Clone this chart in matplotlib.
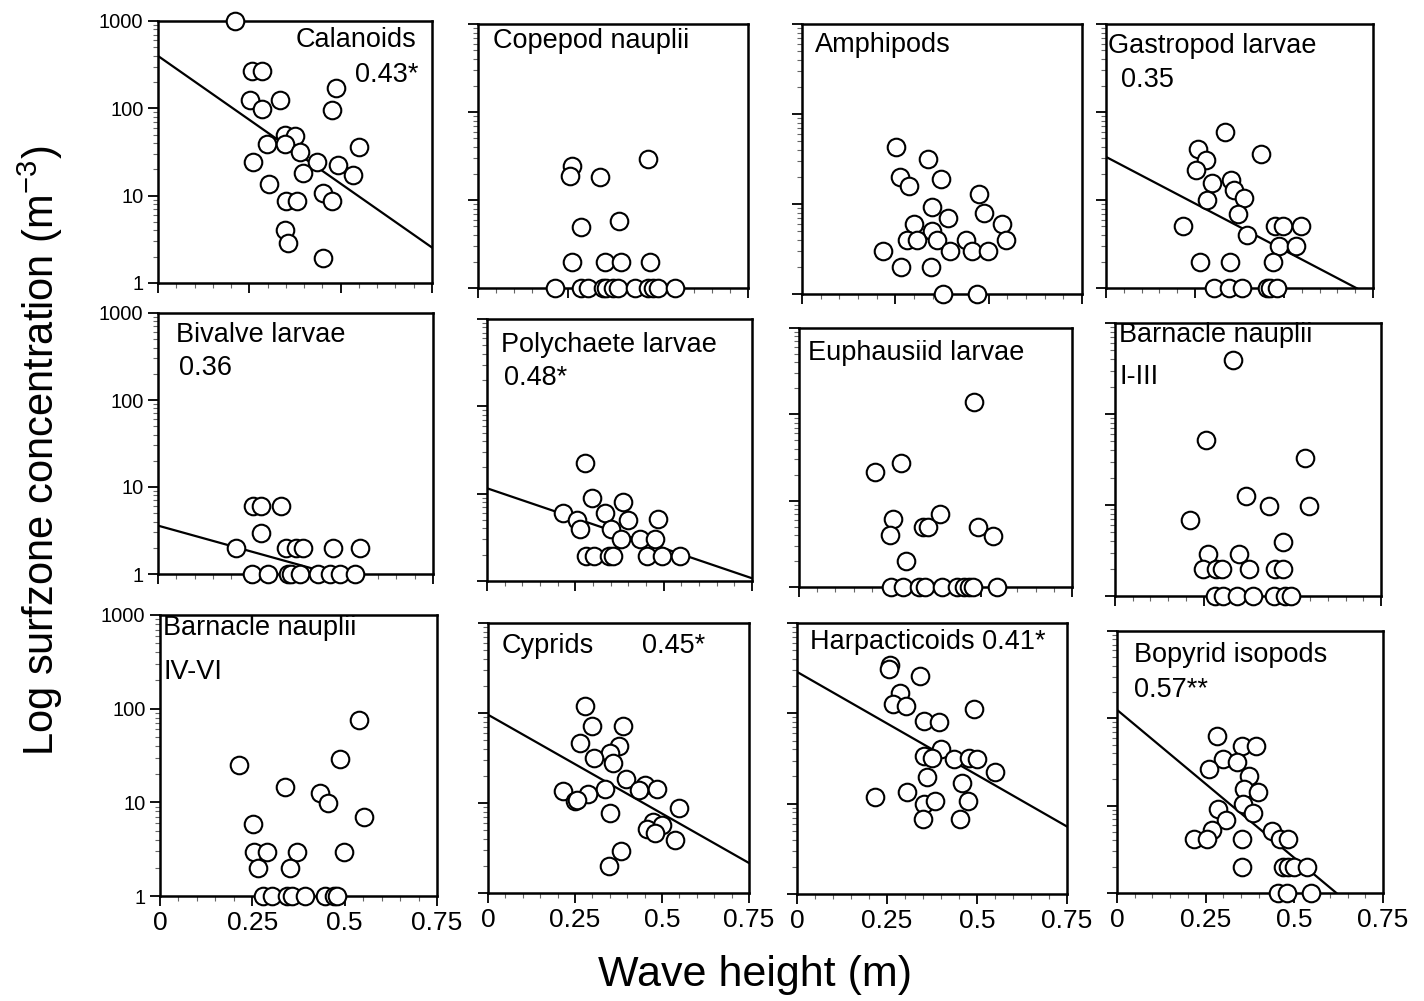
import matplotlib.pyplot as plt
import numpy as np
from matplotlib.ticker import MultipleLocator, LogLocator, NullFormatter

plt.rcParams["font.family"] = ["Liberation Sans", "DejaVu Sans"]
plt.rcParams["mathtext.fontset"] = "custom"
plt.rcParams["mathtext.rm"] = "Liberation Sans"
plt.rcParams["mathtext.it"] = "Liberation Sans:italic"

# wave height (m) and surfzone concentration (m^-3)
calanoids_x = [0.21, 0.256, 0.284, 0.253, 0.285, 0.334, 0.348, 0.375, 0.297, 0.348, 0.389, 0.261, 0.434,
               0.494, 0.535, 0.549, 0.396, 0.305, 0.451, 0.476, 0.35, 0.38, 0.348, 0.357, 0.451, 0.488, 0.477]
calanoids_y = [1000, 266, 266, 124, 98, 124, 50, 48, 39, 39, 32, 24.5, 24.5,
               22.5, 17.3, 36, 18, 13.5, 10.7, 8.6, 8.6, 8.6, 4.0, 2.86, 1.93, 169, 95]

copepod_x = [0.262, 0.255, 0.338, 0.472, 0.392, 0.287, 0.262, 0.352, 0.398, 0.477, 0.213,
             0.287, 0.306, 0.347, 0.356, 0.375, 0.389, 0.435, 0.472, 0.486, 0.5, 0.546]
copepod_y = [24.5, 18.6, 18.1, 29.5, 5.8, 4.9, 1.97, 1.97, 1.97, 1.97, 1,
             1, 1, 1, 1, 1, 1, 1, 1, 1, 1, 1]

amphipods_x = [0.253, 0.337, 0.263, 0.286, 0.371, 0.473, 0.487, 0.348, 0.39, 0.299, 0.348, 0.536, 0.547,
               0.281, 0.308, 0.362, 0.438, 0.217, 0.397, 0.455, 0.497, 0.265, 0.346, 0.379, 0.47]
amphipods_y = [42.6, 31.9, 19.8, 15.7, 19.1, 12.9, 7.9, 9.2, 7.0, 6.0, 5.0, 6.0, 4.0,
               4.0, 4.0, 4.0, 4.0, 2.98, 2.98, 2.98, 2.98, 1.98, 1.98, 1, 1]

gastropod_x = [0.334, 0.259, 0.282, 0.434, 0.252, 0.299, 0.35, 0.359, 0.387, 0.284, 0.371, 0.215, 0.395, 0.474,
               0.496, 0.549, 0.486, 0.535, 0.264, 0.348, 0.468, 0.303, 0.346, 0.381, 0.451, 0.46, 0.479]
gastropod_y = [60, 38, 28.5, 33, 21.9, 15.4, 16.9, 13, 10.6, 10, 6.9, 5.0, 4.0, 5.0,
               5.0, 5.0, 3.0, 3.0, 1.98, 1.98, 1.98, 1, 1, 1, 1, 1, 1]

bivalve_x = [0.259, 0.282, 0.336, 0.282, 0.214, 0.35, 0.375, 0.395, 0.477, 0.55,
             0.255, 0.3, 0.355, 0.364, 0.386, 0.436, 0.468, 0.495, 0.536]
bivalve_y = [6, 6, 6, 2.96, 2, 2, 2, 2, 2, 2,
             1, 1, 1, 1, 1, 1, 1, 1, 1]

polychaete_x = [0.278, 0.297, 0.385, 0.215, 0.255, 0.262, 0.335, 0.398, 0.351, 0.483, 0.379, 0.434, 0.476,
                0.281, 0.302, 0.344, 0.358, 0.453, 0.495, 0.545]
polychaete_y = [22.7, 8.9, 8.1, 6.0, 5.0, 3.9, 6.0, 5.0, 3.9, 5.1, 3.0, 3.0, 3.0,
                1.94, 1.94, 1.94, 1.94, 1.94, 1.94, 1.94]

euphausiid_x = [0.481, 0.208, 0.279, 0.257, 0.25, 0.341, 0.355, 0.386, 0.493, 0.532, 0.294,
                0.254, 0.286, 0.33, 0.346, 0.392, 0.433, 0.453, 0.468, 0.479, 0.543]
euphausiid_y = [140, 21.7, 27, 6.1, 4.0, 4.9, 4.9, 7.0, 5.0, 3.9, 1.98,
                1, 1, 1, 1, 1, 1, 1, 1, 1, 1]

barn13_x = [0.334, 0.257, 0.536, 0.37, 0.433, 0.546, 0.212, 0.473, 0.261, 0.351, 0.249, 0.285,
            0.301, 0.379, 0.452, 0.475, 0.282, 0.304, 0.343, 0.39, 0.447, 0.48, 0.496]
barn13_y = [396, 51.6, 33, 12.5, 9.7, 9.7, 6.9, 3.9, 2.89, 2.89, 1.96, 1.96,
            1.96, 1.96, 1.96, 1.96, 1, 1, 1, 1, 1, 1, 1]

barn46_x = [0.215, 0.339, 0.538, 0.488, 0.434, 0.456, 0.551, 0.253, 0.255, 0.289, 0.372, 0.499, 0.264,
            0.351, 0.28, 0.303, 0.343, 0.357, 0.393, 0.447, 0.47, 0.479]
barn46_y = [25, 14.5, 75.7, 28.8, 12.7, 9.8, 6.9, 5.9, 2.97, 2.97, 2.97, 2.97, 1.97,
            1.97, 1, 1, 1, 1, 1, 1, 1, 1]

cyprids_x = [0.279, 0.298, 0.389, 0.265, 0.375, 0.351, 0.359, 0.305, 0.396, 0.451, 0.435, 0.486, 0.336,
             0.215, 0.286, 0.25, 0.257, 0.549, 0.351, 0.475, 0.499, 0.458, 0.48, 0.537, 0.381, 0.349]
cyprids_y = [119, 72, 71, 47, 43, 36, 28, 32, 18.5, 16, 13.8, 14.3, 14.3,
             13.5, 12.7, 10.4, 10.9, 8.8, 7.7, 6.1, 5.7, 5.1, 4.6, 3.9, 2.9, 1.98]

harpact_x = [0.259, 0.255, 0.341, 0.287, 0.267, 0.304, 0.491, 0.352, 0.394, 0.4, 0.352, 0.375, 0.437,
             0.477, 0.5, 0.551, 0.361, 0.458, 0.306, 0.218, 0.352, 0.384, 0.474, 0.35, 0.454]
harpact_y = [340, 313, 258, 169, 126, 120, 113, 83, 81, 40, 33.7, 31.7, 31,
             31.7, 31, 22.6, 19.6, 16.8, 13.6, 11.8, 9.9, 10.8, 10.8, 6.7, 6.7]

bopyrid_x = [0.281, 0.352, 0.392, 0.298, 0.338, 0.258, 0.373, 0.358, 0.398, 0.356, 0.286, 0.383, 0.308, 0.267,
             0.436, 0.216, 0.253, 0.352, 0.459, 0.483, 0.352, 0.469, 0.483, 0.499, 0.536, 0.455, 0.478, 0.548]
bopyrid_y = [63, 47.6, 47.6, 34, 32, 26, 21.6, 15.5, 14.2, 10.5, 9.1, 8.2, 6.9, 5.3,
             5.1, 4.1, 4.1, 4.1, 4.1, 4.1, 2.0, 2.0, 2.0, 2.0, 2.0, 1, 1, 1]

# regression lines: log10(y) = a + b * wave height
fit_a = [2.60, None, None, 1.49, 0.556, 1.062, None, None, None, 1.981, 2.459, 2.097]
fit_b = [-2.925, None, None, -2.12, -1.17, -1.374, None, None, None, -2.197, -2.283, -3.39]

xs_all = [calanoids_x, copepod_x, amphipods_x, gastropod_x, bivalve_x, polychaete_x,
          euphausiid_x, barn13_x, barn46_x, cyprids_x, harpact_x, bopyrid_x]
ys_all = [calanoids_y, copepod_y, amphipods_y, gastropod_y, bivalve_y, polychaete_y,
          euphausiid_y, barn13_y, barn46_y, cyprids_y, harpact_y, bopyrid_y]

# panel boxes in pixels: left, right, top, bottom
boxes = [(158, 432, 21, 283), (478, 748, 24, 288), (802, 1082, 24, 294), (1106, 1373, 24, 288),
         (158, 433, 313, 574), (487, 752, 319, 581), (799, 1072, 328, 587), (1115, 1381, 323, 596),
         (160, 437, 615, 896), (488, 749, 623, 893), (797, 1067, 623, 894), (1117, 1383, 631, 893)]

# (text, x, y, ha) in axes fraction
labels = [
    [("Calanoids", 0.943, 0.926, "right"), ("0.43*", 0.95, 0.793, "right")],
    [("Copepod nauplii", 0.056, 0.934, "left")],
    [("Amphipods", 0.048, 0.923, "left")],
    [("Gastropod larvae", 0.009, 0.915, "left"), ("0.35", 0.055, 0.789, "left")],
    [("Bivalve larvae", 0.064, 0.917, "left"), ("0.36", 0.075, 0.789, "left")],
    [("Polychaete larvae", 0.054, 0.902, "left"), ("0.48*", 0.063, 0.775, "left")],
    [("Euphausiid larvae", 0.033, 0.904, "left")],
    [("Barnacle nauplii", 0.016, 0.955, "left"), ("I-III", 0.016, 0.802, "left")],
    [("Barnacle nauplii", 0.012, 0.953, "left"), ("IV-VI", 0.012, 0.798, "left")],
    [("Cyprids", 0.054, 0.914, "left"), ("0.45*", 0.589, 0.914, "left")],
    [("Harpacticoids 0.41*", 0.047, 0.93, "left")],
    [("Bopyrid isopods", 0.063, 0.909, "left"), ("0.57**", 0.063, 0.775, "left")],
]

W, H = 1424, 1001
fig = plt.figure(figsize=(W / 100, H / 100), dpi=100)

for i, (l, r, t, b) in enumerate(boxes):
    ax = fig.add_axes([l / W, 1 - b / H, (r - l) / W, (b - t) / H])
    ax.set_yscale("log")
    ax.set_xlim(0, 0.75)
    ax.set_ylim(1, 1000)
    ax.scatter(xs_all[i], ys_all[i], s=160, facecolors="white", edgecolors="black",
               linewidths=1.5, clip_on=False, zorder=3)
    if fit_a[i] is not None:
        xx = np.linspace(0, 0.75, 100)
        ax.plot(xx, 10 ** (fit_a[i] + fit_b[i] * xx), color="black", lw=1.6, zorder=2)
    for txt, tx, ty, ha in labels[i]:
        ax.text(tx, ty, txt, transform=ax.transAxes, fontsize=19.5, ha=ha, va="center")

    for s in ax.spines.values():
        s.set_linewidth(1.8)
    ax.set_xticks([0, 0.25, 0.5, 0.75])
    ax.xaxis.set_minor_locator(MultipleLocator(0.05))
    ax.set_yticks([1, 10, 100, 1000])
    ax.yaxis.set_minor_locator(LogLocator(base=10, subs=np.arange(2, 10)))
    ax.yaxis.set_minor_formatter(NullFormatter())
    ax.tick_params(which="major", direction="out", length=7, width=1.3)
    ax.tick_params(which="minor", direction="out", length=3.5, width=0.8, color="0.4")
    if i % 4 == 0:
        ax.set_yticklabels(["1", "10", "100", "1000"], fontsize=14.5)
    else:
        ax.set_yticklabels([])
    if i >= 8:
        ax.set_xticklabels(["0", "0.25", "0.5", "0.75"], fontsize=19)
    else:
        ax.set_xticklabels([])

fig.text(0.028, 0.55, r"Log surfzone concentration (m$^{-3}$)", rotation=90,
         fontsize=30, ha="center", va="center")
fig.text(0.53, 0.026, "Wave height (m)", fontsize=31, ha="center", va="center")

fig.savefig("out.png", dpi=100)
